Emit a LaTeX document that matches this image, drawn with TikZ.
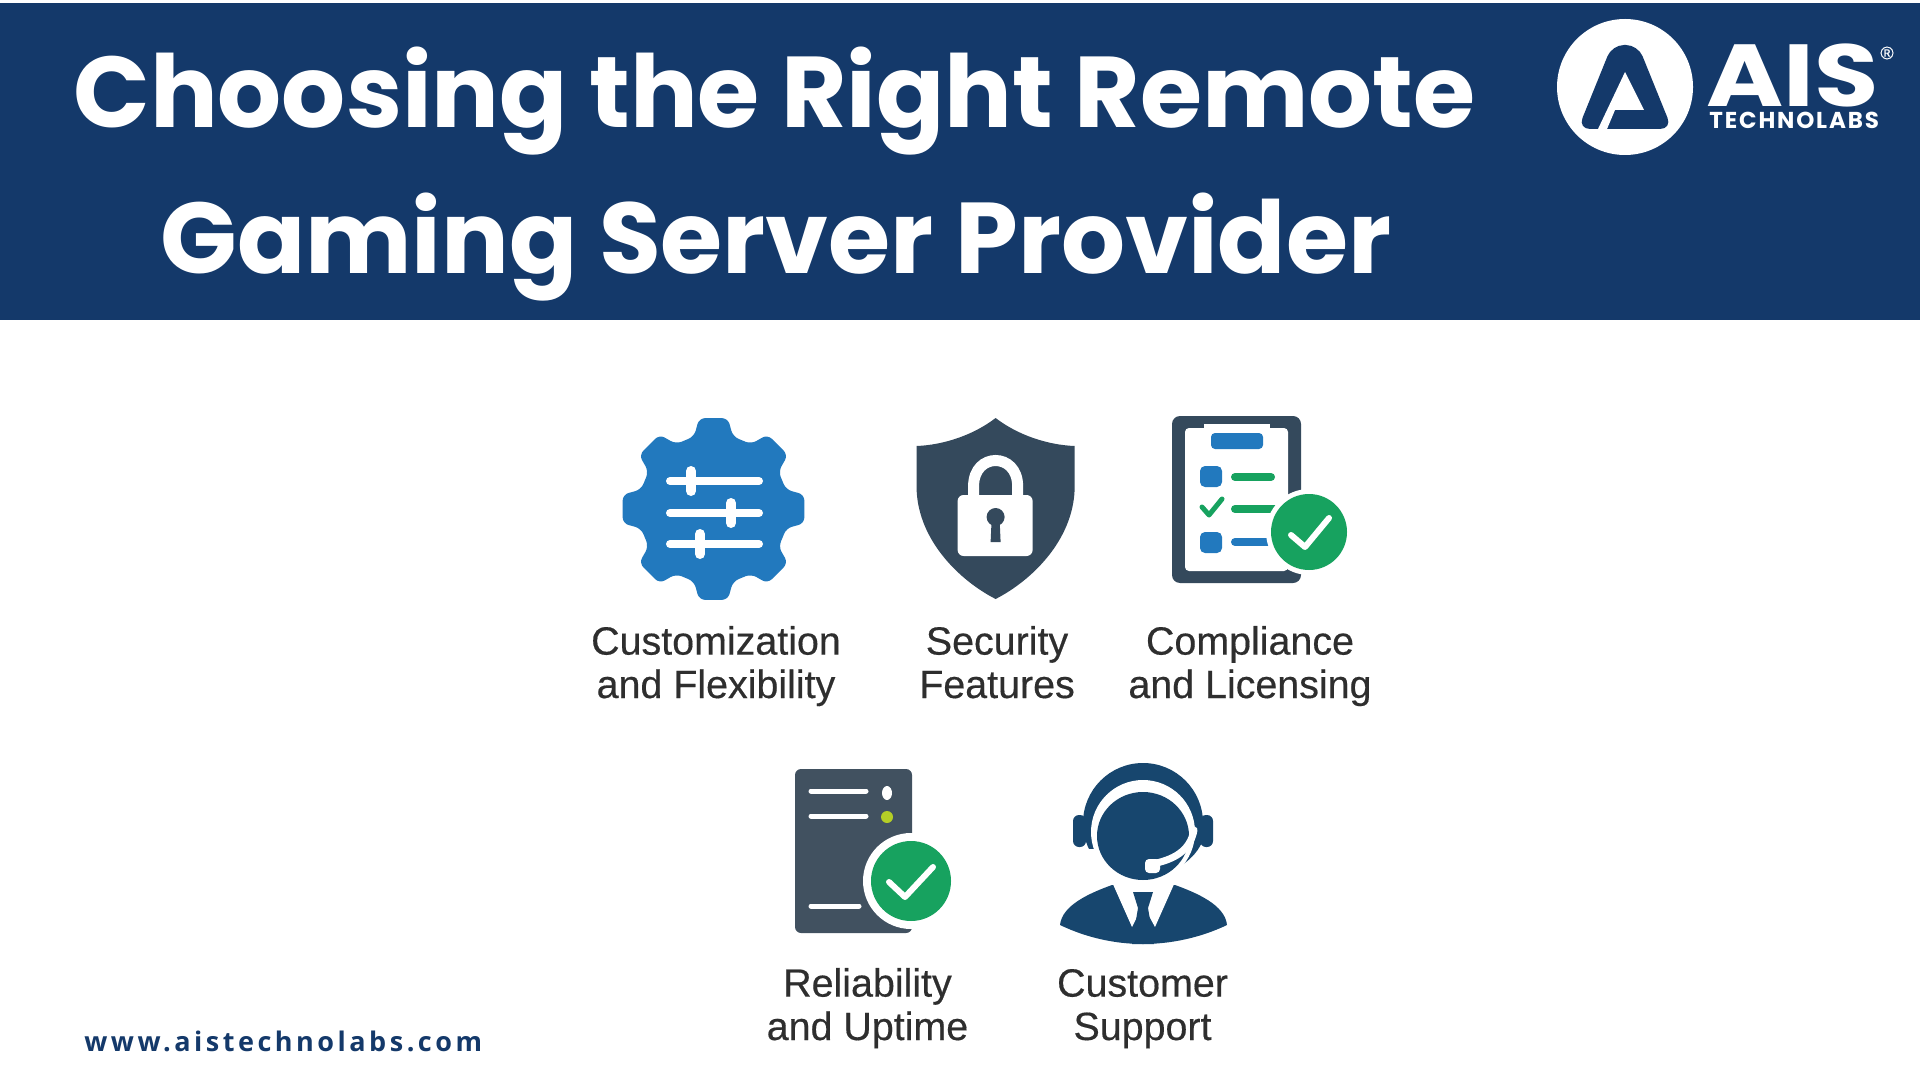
\documentclass[tikz,border=0pt]{standalone}
\usepackage{fontspec}
\usepackage{tikz}
\setmainfont{Liberation Sans}[FakeBold=0.4]
\newfontfamily\headfont{Poppins}
\newfontfamily\urlfont{Open Sans}[LetterSpace=13]
\newfontfamily\subfont{Poppins}[LetterSpace=8]
\definecolor{navy}{HTML}{14396A}
\definecolor{gearblue}{HTML}{2279BE}
\definecolor{slate}{HTML}{34495C}
\definecolor{okgreen}{HTML}{17A25F}
\definecolor{agent}{HTML}{17466E}
\tikzset{
  label/.style={align=center, anchor=base, text=black!82, inner sep=0pt, font=\fontsize{19.7}{21.7}\selectfont},
  headline/.style={anchor=base west, text=white, inner sep=0pt, font=\headfont\bfseries\fontsize{50.3}{55}\selectfont},
  tick/.style={draw=white, line width=3pt, line cap=round, line join=round},
  bar/.style={line width=#1, line cap=round}
}
\begin{document}
\begin{tikzpicture}[x=.5pt,y=-.5pt]
\useasboundingbox (0,0) rectangle (1920,1080);
\fill[white] (0,0) rectangle (1920,1080);
\fill[navy] (0,3) rectangle (1920,320);

% title
\node[headline] at (73,128) (t1) {Choosing the Right Remote};
\node[headline] at (160,274) (t2) {Gaming Server Provider};

% logo
\fill[white] (1625,87) circle (68);
\fill[navy, rounded corners=6pt] (1578,129) -- (1612,45) -- (1638,45) -- (1672,129) -- cycle;
\fill[white] (1625,72) -- (1644,110) -- (1615,110) -- (1607,129) -- (1598,129) -- cycle;
\node[white, inner sep=0pt, anchor=base west, xscale=1.19, font=\headfont\bfseries\fontsize{44}{44}\selectfont] at (1706,107) (l1) {AIS};
\node[white, inner sep=0pt, anchor=base west, font=\subfont\bfseries\fontsize{11.5}{12}\selectfont] at (1709,129) (l2) {TECHNOLABS};
\node[white, inner sep=0pt, font=\fontsize{9}{9}\selectfont] at (1887,53) (l3) {®};

% gear
\begin{scope}[shift={(713.5,509)}]
\fill[gearblue, rounded corners=3pt] (22.5:75)
  \foreach \a in {45,90,...,360} { -- (\a-15:75) -- (\a-9:92) -- (\a+9:92) -- (\a+15:75) } -- cycle;
\end{scope}
\foreach \yy/\xx in {481/691,513/731,544/700} {
  \draw[white, bar=4pt] (670,\yy) -- (759,\yy);
  \draw[white, bar=5pt] (\xx,\yy-10) -- (\xx,\yy+10);
}
\node[label] at (716,698) (g1) {Customization\\and Flexibility};

% shield
\begin{scope}[xshift=-1.2pt]
\fill[slate] (998,418) .. controls (1020,435) and (1050,445) .. (1077,446)
  -- (1077,490) .. controls (1075,540) and (1035,580) .. (998,599)
  .. controls (961,580) and (921,540) .. (919,490) -- (919,446)
  .. controls (946,445) and (976,435) .. (998,418) -- cycle;
\draw[white, line width=5.5pt] (976,500) -- (976,486) .. controls (976,452) and (1020,452) .. (1020,486) -- (1020,500);
\fill[white, rounded corners=3pt] (960,495) rectangle (1035,556);
\fill[slate] (998,517) circle (9);
\fill[slate] (994,520) -- (1002,520) -- (1003,542) -- (993,542) -- cycle;
\end{scope}
\node[label] at (997,698) (s1) {Security\\Features};

% clipboard
\begin{scope}[xshift=-2pt]
\fill[slate, rounded corners=4pt] (1176,416) rectangle (1305,583);
\fill[white, rounded corners=2pt] (1189,428) rectangle (1292,571);
\fill[white] (1208,424) rectangle (1274,428);
\fill[gearblue, rounded corners=2pt] (1215,433) rectangle (1267,449);
\foreach \yy in {466,532} {
  \fill[gearblue, rounded corners=2.5pt] (1204,\yy) rectangle (1226,\yy+21);
}
\draw[okgreen, bar=4pt] (1239,477) -- (1275,477);
\draw[okgreen, bar=4pt] (1239,509) -- (1280,509);
\draw[gearblue, bar=4pt] (1239,542) -- (1275,542);
\draw[okgreen, line width=2.5pt, line cap=round, line join=round] (1206,507) -- (1213,515) -- (1226,499);
\fill[white] (1313,532) circle (43);
\fill[okgreen] (1313,532) circle (38);
\draw[tick] (1295,535) -- (1309,547) -- (1333,518);
\end{scope}
\node[label] at (1250,698) (c1) {Compliance\\and Licensing};

% server
\fill[slate!85!black!90, rounded corners=3pt] (795,769) rectangle (912,933);
\foreach \yy/\xe in {791/866,816/866,906/859} {
  \draw[white, bar=2.5pt] (811,\yy) -- (\xe,\yy);
}
\fill[white] (887,793) ellipse (5 and 7);
\fill[yellow!75!green!90!black] (887,817) circle (6);
\fill[white] (911,881) circle (48);
\fill[okgreen] (911,881) circle (40);
\draw[tick] (889,882) -- (905,897) -- (933,867);
\node[label] at (867.5,1040) (r1) {Reliability\\and Uptime};

% agent
\begin{scope}
\clip (1060,750) rectangle (1230,848);
\fill[agent] (1143,823) circle (60);
\end{scope}
\fill[agent, rounded corners=3pt] (1073,815) rectangle (1086,847);
\fill[agent, rounded corners=3pt] (1200,815) rectangle (1213,847);
\fill[agent] (1203,840) .. controls (1195,860) and (1175,872) .. (1155,875) -- (1150,860) -- cycle;
\fill[white] (1143,832) circle (52);
\fill[agent] (1143,836) ellipse (46 and 44);
\draw[white, line width=3.5pt, line cap=round] (1194,830) .. controls (1190,852) and (1172,860) .. (1152,864);
\fill[white, rounded corners=2pt] (1145,859) rectangle (1160,873);
\fill[agent] (1060,925) .. controls (1062,905) and (1090,893) .. (1112,885)
  -- (1175,885) .. controls (1197,893) and (1225,905) .. (1227,925)
  .. controls (1200,938) and (1170,944) .. (1143,944)
  .. controls (1116,944) and (1087,938) .. (1060,925) -- cycle;
\fill[white] (1112,882) -- (1132,927) -- (1143,905) -- (1155,927) -- (1175,882) -- cycle;
\fill[agent] (1133,892) -- (1153,892) -- (1148,908) -- (1154,944) -- (1132,944) -- (1138,908) -- cycle;
\node[label] at (1142.5,1040) (a1) {Customer\\Support};

% footer
\node[anchor=base west, inner sep=0pt, text=navy, font=\urlfont\bfseries\fontsize{13.5}{16}\selectfont] at (84,1051) (url) {www.aistechnolabs.com};
\end{tikzpicture}
\end{document}
